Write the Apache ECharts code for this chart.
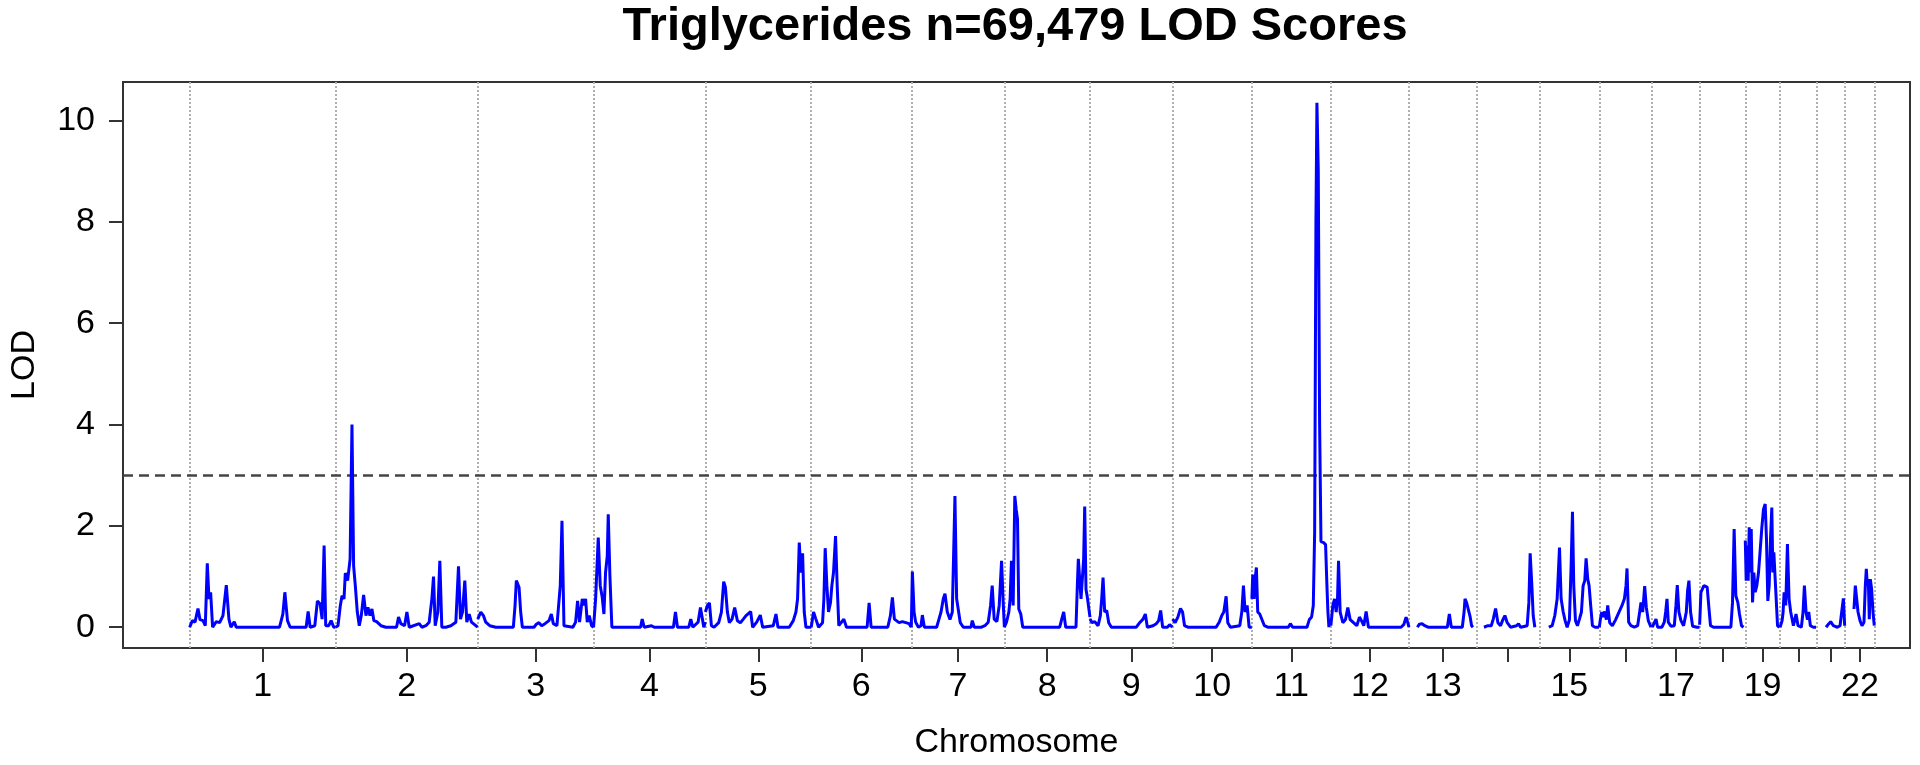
<!DOCTYPE html>
<html><head><meta charset="utf-8">
<script src="https://cdn.jsdelivr.net/npm/echarts@6/dist/echarts.min.js"></script>
<style>html,body{margin:0;padding:0;background:#fff}#c{width:1920px;height:765px}</style>
</head><body><div id="c"></div>
<script>
// ---------- data ----------
const chartTitle = 'Triglycerides n=69,479 LOD Scores';
const chromNames = ['1','2','3','4','5','6','7','8','9','10','11','12','13','14','15','16','17','18','19','20','21','22'];
const chromLengthsMb = [249.25,243.20,198.02,191.15,180.92,171.12,159.14,146.36,141.21,135.53,135.01,133.85,115.17,107.35,102.53,90.35,81.20,78.08,59.13,63.03,48.13,51.30];
const labeledChroms = ['1','2','3','4','5','6','7','8','9','10','11','12','13','15','17','19','22'];
const yTickValues = [0,2,4,6,8,10];
const lodThreshold = 3;

// [position within chromosome (Mb), LOD]
const chr1 = [[0,0],[4.6,0.13],[9.1,0.10],[14.2,0.37],[17.6,0.15],[22.8,0.13],[26.7,0.03],[30.1,1.26],[33.0,0.56],[35.8,0.69],[39.2,0],[45.5,0.11],[51.2,0.09],[56.9,0.23],[62.6,0.83],[67.1,0.16],[70.5,0],[76.2,0.11],[79.6,0],[153.6,0],[159.3,0.26],[162.7,0.69],[167.2,0.13],[171.8,0],[199.1,0],[202.5,0.31],[205.9,0],[213.9,0.03],[218.4,0.52],[223.0,0.46],[226.4,0.16],[229.8,1.61],[232.6,0.03],[237.8,0.03],[241.8,0.13],[246.3,0],[249.1,0]];
const chr2 = [[0,0],[4.3,0.03],[8.3,0.43],[11.2,0.62],[14.6,0.56],[16.8,1.07],[20.8,0.92],[25.0,1.35],[28.2,4.00],[31.0,1.21],[33.9,0.82],[37.3,0.30],[40.7,0.03],[44.1,0.23],[48.1,0.64],[52.1,0.23],[55.5,0.39],[58.9,0.23],[62.3,0.36],[65.7,0.13],[70.3,0.11],[77.7,0.03],[86.2,0],[104.4,0],[107.8,0.2],[111.8,0.07],[118.1,0.03],[122.1,0.3],[126.1,0],[143.2,0.07],[147.7,0],[154.5,0.03],[160.2,0.1],[164.8,0.56],[167.6,1.0],[170.5,0.03],[175.0,0.3],[178.4,1.31],[181.8,0],[188.7,0],[197.2,0.03],[205.8,0.1],[210.3,1.2],[213.7,0.16],[217.1,0.3],[221.1,0.92],[224.5,0.1],[228.5,0.26],[232.5,0.1],[235.9,0.13],[239.9,0.03],[243.0,0]];
const chr3 = [[0,0.16],[5.2,0.30],[9.7,0.23],[13.7,0.10],[20.5,0.03],[30.8,0],[60.9,0],[63.8,0.43],[66.0,0.92],[70.6,0.79],[73.4,0.3],[76.3,0],[96.2,0],[100.2,0.06],[104.7,0.09],[109.3,0.03],[115.0,0.07],[121.8,0.13],[125.8,0.26],[129.2,0.07],[135.4,0.03],[141.1,0.82],[144.0,2.10],[147.4,0.03],[162.7,0],[167.3,0.1],[170.7,0.52],[174.1,0.10],[178.7,0.56],[182.1,0.43],[184.4,0.56],[187.2,0.1],[190.6,0.23],[194.6,0.03],[198.0,0]];
const chr4 = [[0,0],[3.5,0.56],[8.0,1.77],[11.4,0.82],[14.8,0.59],[17.7,0.26],[20.5,1.08],[23.4,1.41],[25.1,2.23],[27.9,1.02],[31.3,0],[80.3,0],[83.1,0.16],[86.5,0],[99.0,0.03],[103.6,0],[136.5,0],[140.0,0.30],[143.4,0],[162.8,0],[166.2,0.16],[169.6,0],[178.7,0.1],[182.7,0.39],[186.1,0.16],[188.4,0],[191.0,0.1]];
const chr5 = [[0,0.30],[3.5,0.43],[6.9,0.48],[10.3,0.03],[14.8,0],[22.8,0.09],[27.4,0.30],[31.3,0.90],[34.2,0.79],[37.6,0.30],[41.0,0.09],[45.6,0.16],[50.1,0.39],[54.7,0.13],[59.8,0.09],[64.9,0.16],[69.5,0.23],[77.4,0.31],[80.8,0],[87.7,0.10],[93.9,0.24],[97.9,0],[116.1,0.03],[120.7,0.26],[124.1,0],[143.4,0],[150.3,0.13],[154.8,0.30],[157.6,0.56],[160.5,1.67],[163.3,1.08],[166.2,1.46],[169.0,0.30],[171.9,0],[181.0,0]];
const chr6 = [[0,0],[4.0,0.30],[8.0,0.16],[12.6,0],[19.4,0.09],[21.7,0.56],[23.9,1.56],[26.8,0.82],[29.6,0.30],[33.0,0.49],[35.3,0.82],[38.1,1.08],[41.6,1.80],[44.4,0.82],[47.2,0.03],[51.2,0.09],[55.8,0.16],[60.3,0],[95.6,0],[99.0,0.48],[102.4,0],[130.9,0],[135.4,0.23],[138.8,0.59],[142.2,0.16],[145.6,0.16],[150.2,0.09],[155.9,0.11],[161.6,0.09],[167.3,0.07],[171.1,0]];
const chr7 = [[0,0],[1.8,1.10],[4.7,0.30],[7.5,0.10],[12.1,0],[16.6,0.03],[18.9,0.24],[22.3,0],[43.3,0],[47.3,0.16],[50.8,0.30],[54.7,0.56],[57.6,0.66],[61.5,0.30],[66.1,0.15],[70.1,0.30],[74.6,2.59],[77.5,0.56],[80.3,0.57],[83.7,0.09],[88.9,0],[102.0,0],[104.2,0.13],[107.7,0],[120.0,0],[125.8,0.03],[131.5,0.10],[135.5,0.43],[138.3,0.82],[141.7,0.16],[146.3,0.11],[150.3,0.43],[154.3,1.31],[157.1,0.49],[159.1,0]];
const chr8 = [[0,0],[3.6,0.10],[7.6,0.30],[9.8,0.56],[12.1,1.31],[15.0,0.43],[17.8,2.59],[20.1,2.33],[22.4,2.13],[24.6,0.36],[28.0,0.26],[31.4,0],[94.6,0],[98.0,0.16],[101.4,0.30],[104.8,0],[122.4,0],[124.7,0.82],[126.4,1.35],[128.7,1.38],[131.0,0.56],[133.3,0.56],[135.5,1.35],[137.3,2.38],[139.5,0.75],[141.8,0.59],[144.1,0.56],[146.3,0.20]];
const chr9 = [[0,0.16],[3.5,0.09],[8.1,0.11],[13.8,0.03],[17.7,0.23],[20.0,0.56],[22.3,0.98],[25.1,0.30],[28.6,0.33],[32.0,0.09],[36.5,0],[79.2,0],[84.9,0.09],[90.6,0.16],[94.6,0.26],[98.0,0],[107.7,0.03],[113.4,0.07],[117.4,0.13],[120.8,0.33],[124.2,0],[132.2,0],[136.1,0.05],[141.0,0]];
const chr10 = [[0,0.16],[4.4,0.09],[9.0,0.20],[13.5,0.37],[17.0,0.30],[20.4,0.03],[26.1,0],[74.4,0],[80.1,0.11],[84.1,0.23],[87.5,0.30],[91.5,0.61],[94.3,0.09],[98.9,0],[114.8,0.03],[118.3,0.30],[121.1,0.82],[124.0,0.30],[127.4,0.43],[130.8,0],[135.4,0]];
const chr11 = [[0,0.56],[1.5,1.04],[3.8,0.56],[5.5,0.95],[7.7,1.18],[10.0,0.30],[13.4,0.26],[16.8,0.23],[21.4,0.03],[27.1,0],[62.3,0],[65.8,0.07],[69.7,0],[94.2,0],[98.2,0.15],[102.1,0.20],[105.0,0.43],[107.3,1.87],[109.5,8.0],[111.2,10.35],[113.5,9.0],[115.8,4.0],[118.1,1.69],[122.6,1.67],[126.0,1.63],[128.3,0.82],[130.0,0.30],[131.7,0]];
const chr12 = [[0,0.03],[3.4,0.43],[6.3,0.56],[9.1,0.30],[11.4,0.56],[13.1,1.31],[15.9,0.30],[20.5,0.09],[25.0,0.15],[29.0,0.39],[33.0,0.15],[38.7,0.09],[44.4,0.03],[48.9,0.20],[52.3,0.13],[56.3,0.03],[60.3,0.31],[64.3,0],[120.0,0],[124.6,0.05],[128.6,0.20],[132.0,0.07],[133.5,0]];
const chr13 = [[14.1,0],[17.5,0.06],[22.1,0.07],[26.6,0.03],[32.3,0],[65.3,0],[68.7,0.26],[72.1,0],[90.9,0],[93.9,0.30],[95.5,0.56],[98.3,0.48],[101.2,0.46],[104.0,0.22],[106.8,0.03],[109.1,0]];
const chr14 = [[12.7,0],[19.5,0.03],[25.2,0.03],[28.6,0.16],[32.6,0.37],[36.6,0.09],[41.1,0.03],[45.1,0.15],[48.5,0.23],[52.5,0.09],[58.2,0],[68.4,0.03],[71.8,0.07],[75.3,0],[86.6,0.03],[89.5,0.49],[91.7,1.46],[94.6,0.82],[96.9,0.23],[99.7,0]];
const chr15 = [[16.3,0],[22.0,0.03],[26.5,0.23],[30.5,0.56],[34.5,1.57],[37.3,0.56],[40.7,0.31],[44.1,0.13],[47.6,0],[51.5,0.15],[54.4,1.21],[56.7,2.28],[58.9,0.82],[61.8,0.13],[65.2,0.03],[68.6,0.16],[72.0,0.30],[74.9,0.82],[77.7,0.92],[80.0,1.36],[82.8,0.95],[85.1,0.82],[87.4,0.49],[90.8,0.03],[95.4,0],[102.0,0]];
const chr16 = [[0,0],[1.9,0.16],[4.2,0.30],[6.4,0.20],[9.3,0.31],[12.1,0.15],[14.4,0.43],[17.8,0.09],[22.4,0.03],[28.0,0.15],[33.7,0.30],[38.9,0.43],[42.9,0.56],[45.7,0.82],[47.4,1.16],[50.2,0.10],[54.2,0.03],[59.9,0],[65.6,0.03],[69.0,0.30],[71.3,0.49],[74.2,0.30],[77.6,0.81],[80.4,0.39],[83.8,0.13],[88.4,0]];
const chr17 = [[0.3,0],[3.8,0.09],[6.6,0.16],[9.4,0],[16.8,0],[20.8,0.10],[23.1,0.30],[25.4,0.56],[27.6,0.10],[32.2,0.02],[37.9,0.03],[40.7,0.43],[43.0,0.83],[45.8,0.30],[49.3,0.13],[53.8,0.03],[58.4,0.30],[60.6,0.72],[62.9,0.92],[65.7,0.30],[69.2,0.02],[76.6,0],[81.0,0]];
const chr18 = [[0,0.05],[1.2,0.39],[2.2,0.69],[4.4,0.66],[7.3,0.82],[10.1,0.85],[12.9,0.79],[15.8,0.39],[18.6,0.03],[23.8,0],[53.4,0],[56.2,0.49],[59.0,1.94],[61.9,0.62],[65.3,0.49],[68.1,0.26],[71.6,0.03],[75.0,0]];
const chr19 = [[0,1.71],[1.5,0.92],[3.2,1.61],[4.9,0.92],[6.7,1.97],[8.4,1.08],[10.1,1.94],[12.4,0.49],[14.6,1.08],[16.9,0.69],[19.7,0.82],[22.6,1.08],[25.4,1.51],[28.3,1.97],[31.1,2.33],[34.0,2.43],[36.2,1.74],[38.5,0.52],[40.8,0.82],[43.1,1.74],[45.3,2.36],[47.1,1.08],[48.8,1.48],[50.5,1.08],[52.8,0.56],[55.1,0.03],[58.5,0]];
const chr20 = [[0.3,0],[3.8,0.13],[5.5,0.30],[7.2,0.69],[10.0,0.43],[12.9,1.64],[15.7,0.56],[18.5,0.30],[23.1,0.03],[27.6,0.26],[31.0,0.03],[36.7,0],[39.6,0.30],[41.9,0.82],[44.7,0.30],[47.1,0.15],[49.3,0.30],[52.1,0.03],[57.2,0],[61.8,0]];
const chr21 = [[15.9,0],[19.9,0.06],[23.8,0.11],[28.4,0.03],[35.2,0],[39.8,0.03],[42.6,0.30],[45.5,0.57],[47.7,0.03]];
const chr22 = [[15.5,0.36],[17.8,0.82],[20.1,0.56],[22.4,0.30],[25.8,0.13],[29.2,0.03],[32.6,0.10],[34.9,0.82],[36.6,1.15],[38.3,0.82],[40.0,0.95],[41.7,0.16],[43.4,0.95],[45.7,0.75],[48.0,0.30],[50.2,0.03]];
const chromData = [chr1,chr2,chr3,chr4,chr5,chr6,chr7,chr8,chr9,chr10,chr11,chr12,chr13,chr14,chr15,chr16,chr17,chr18,chr19,chr20,chr21,chr22];

// ---------- derived ----------
const offsets = [];
let acc = 0;
chromLengthsMb.forEach(l => { offsets.push(acc); acc += l; });
const genomeEnd = acc;
const boundaries = offsets.concat([genomeEnd]);
const mids = offsets.map((o, i) => o + chromLengthsMb[i] / 2);
const labeledMids = mids.filter((m, i) => labeledChroms.indexOf(chromNames[i]) >= 0);

const lineData = [];
chromData.forEach((arr, i) => {
  arr.forEach(p => lineData.push([offsets[i] + p[0], p[1]]));
  lineData.push([offsets[i] + chromLengthsMb[i], '-']);
});

const FONT = "'Liberation Sans', Arial, Helvetica, sans-serif";
const chart = echarts.init(document.getElementById('c'), null, {renderer: 'canvas'});
chart.setOption({
  animation: false,
  backgroundColor: '#ffffff',
  graphic: [{
    type: 'text', x: 1015, y: 27,
    style: {text: chartTitle, textAlign: 'center', textVerticalAlign: 'middle',
      font: 'bold 47px ' + FONT, fill: '#000'}
  }],
  grid: {left: 120, right: 10, top: 82, bottom: 116, show: true,
    borderColor: '#333', borderWidth: 2, backgroundColor: 'transparent'},
  xAxis: {
    type: 'value', min: -114, max: 2941,
    name: 'Chromosome', nameLocation: 'middle', nameGap: 78,
    nameTextStyle: {fontFamily: FONT, fontSize: 34, color: '#000'},
    axisLine: {show: false, onZero: false},
    splitLine: {show: false},
    axisTick: {show: true, inside: false, length: 14, customValues: mids,
      lineStyle: {color: '#333', width: 2}},
    axisLabel: {show: true, margin: 22, customValues: labeledMids,
      fontFamily: FONT, fontSize: 34, color: '#000',
      formatter: v => {
        let best = 0, bd = Infinity;
        mids.forEach((m, i) => { const d = Math.abs(m - v); if (d < bd) { bd = d; best = i; } });
        return chromNames[best];
      }}
  },
  yAxis: {
    type: 'value', min: -0.41, max: 10.76,
    name: 'LOD', nameLocation: 'middle', nameGap: 81, nameRotate: 90,
    nameTextStyle: {fontFamily: FONT, fontSize: 34, color: '#000'},
    axisLine: {show: false, onZero: false},
    splitLine: {show: false},
    axisTick: {show: true, length: 14, customValues: yTickValues,
      lineStyle: {color: '#333', width: 2}},
    axisLabel: {show: true, margin: 28, customValues: yTickValues,
      fontFamily: FONT, fontSize: 34, color: '#000'}
  },
  series: [
    {
      type: 'line', data: [], z: 1, silent: true,
      markLine: {
        silent: true, symbol: 'none', animation: false,
        label: {show: false},
        lineStyle: {type: 'dotted', color: '#b0b0b0', width: 2},
        data: boundaries.map(b => ({xAxis: b}))
      }
    },
    {
      type: 'line', data: [], z: 2, silent: true,
      markLine: {
        silent: true, symbol: 'none', animation: false,
        label: {show: false},
        lineStyle: {type: [10, 6], color: '#444', width: 2.5},
        data: [{yAxis: lodThreshold}]
      }
    },
    {
      type: 'line', data: lineData, z: 5, silent: true,
      showSymbol: false, connectNulls: false,
      lineStyle: {color: '#0000ff', width: 3},
      itemStyle: {color: '#0000ff'}
    }
  ]
});
</script>
</body></html>
